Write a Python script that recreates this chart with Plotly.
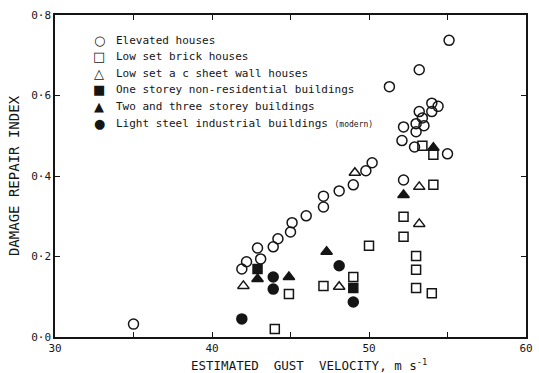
import plotly.graph_objects as go

# Estimated gust velocity (m/s) and damage repair index, per building class
elevated_x = [35.0, 41.9, 42.2, 42.9, 43.1, 43.9, 44.2, 45.0, 45.1, 46.0, 47.1, 47.1,
              48.1, 49.0, 49.8, 50.2, 51.3, 52.1, 52.2, 52.2, 52.9, 53.0, 53.0, 53.2,
              53.2, 53.4, 53.5, 54.0, 54.0, 54.4, 55.0, 55.1]
elevated_y = [0.032, 0.169, 0.187, 0.221, 0.194, 0.224, 0.244, 0.261, 0.284, 0.301, 0.323, 0.350,
              0.363, 0.378, 0.413, 0.433, 0.622, 0.488, 0.522, 0.390, 0.472, 0.510, 0.530, 0.560,
              0.664, 0.544, 0.525, 0.560, 0.581, 0.573, 0.455, 0.737]

brick_x = [44.0, 44.9, 47.1, 49.0, 50.0, 52.2, 52.2, 53.0, 53.0, 53.0, 54.0, 54.1, 53.4, 54.1]
brick_y = [0.020, 0.107, 0.127, 0.149, 0.227, 0.299, 0.249, 0.201, 0.167, 0.122, 0.109, 0.378, 0.475, 0.453]

acsheet_x = [42.0, 48.1, 49.1, 53.2, 53.2]
acsheet_y = [0.127, 0.125, 0.408, 0.373, 0.281]

nonres_x = [42.9, 49.0]
nonres_y = [0.169, 0.122]

multistorey_x = [42.9, 44.9, 47.3, 52.2, 54.1]
multistorey_y = [0.144, 0.149, 0.212, 0.353, 0.470]

steel_x = [41.9, 43.9, 43.9, 48.1, 49.0]
steel_y = [0.045, 0.149, 0.119, 0.177, 0.087]

x_ticks = [30, 35, 40, 45, 50, 55, 60]
x_labels = ["30", "", "40", "", "50", "", "60"]
y_ticks = [0.0, 0.2, 0.4, 0.6, 0.8]
y_labels = ["0·0", "0·2", "0·4", "0·6", "0·8"]

INK = "#151515"
FONT = "DejaVu Sans Mono"

# (label, x, y, plotly symbol, marker size, key glyph)
series = [
    ("Elevated houses", elevated_x, elevated_y, "circle-open", 10, "○"),
    ("Low set brick houses", brick_x, brick_y, "square-open", 9, "□"),
    ("Low set a c sheet wall houses", acsheet_x, acsheet_y, "triangle-up-open", 10, "△"),
    ("One storey non-residential buildings", nonres_x, nonres_y, "square", 9, "■"),
    ("Two and three storey buildings", multistorey_x, multistorey_y, "triangle-up", 10, "▲"),
    ("Light steel industrial buildings <span style='font-size:8px'>(modern)</span>",
     steel_x, steel_y, "circle", 10, "●"),
]

fig = go.Figure()
for name, xs, ys, sym, size, _ in series:
    fig.add_trace(go.Scatter(
        x=xs, y=ys, mode="markers", name=name, showlegend=False,
        marker=dict(symbol=sym, size=size, color=INK,
                    line=dict(color=INK, width=1.5)),
    ))

# Key in the upper-left corner, rows closer together than the built-in legend allows
key_top = 0.922
key_step = 0.0515
for i, (name, *_rest, glyph) in enumerate(series):
    yk = key_top - i * key_step
    fig.add_annotation(xref="paper", yref="paper", x=0.094, y=yk, text=glyph,
                       showarrow=False, xanchor="center", yanchor="middle",
                       font=dict(family="DejaVu Sans", size=13, color=INK))
    fig.add_annotation(xref="paper", yref="paper", x=0.126, y=yk, text=name,
                       showarrow=False, xanchor="left", yanchor="middle",
                       font=dict(family=FONT, size=11, color=INK))

axis_common = dict(
    showgrid=False, zeroline=False, showline=True, linecolor=INK, linewidth=1.5,
    mirror="ticks", ticks="inside", ticklen=5, tickwidth=1.2, tickcolor=INK,
    tickfont=dict(family=FONT, size=11, color=INK),
)

fig.update_xaxes(range=[30, 60], tickvals=x_ticks, ticktext=x_labels,
                 ticklabelstandoff=0, **axis_common)
fig.update_yaxes(range=[0, 0.8], tickvals=y_ticks, ticktext=y_labels,
                 title=dict(text="DAMAGE REPAIR INDEX",
                            font=dict(family=FONT, size=14, color=INK), standoff=8),
                 **axis_common)

fig.add_annotation(xref="paper", yref="paper", x=0.54, y=-0.087,
                   text="ESTIMATED  GUST  VELOCITY, m s<sup>-1</sup>",
                   showarrow=False, xanchor="center", yanchor="middle",
                   font=dict(family=FONT, size=12.5, color=INK))

fig.update_layout(
    width=539, height=373,
    margin=dict(l=55, r=6, t=15, b=36),
    paper_bgcolor="white", plot_bgcolor="white",
    showlegend=False,
)

fig.write_html("out.html")
